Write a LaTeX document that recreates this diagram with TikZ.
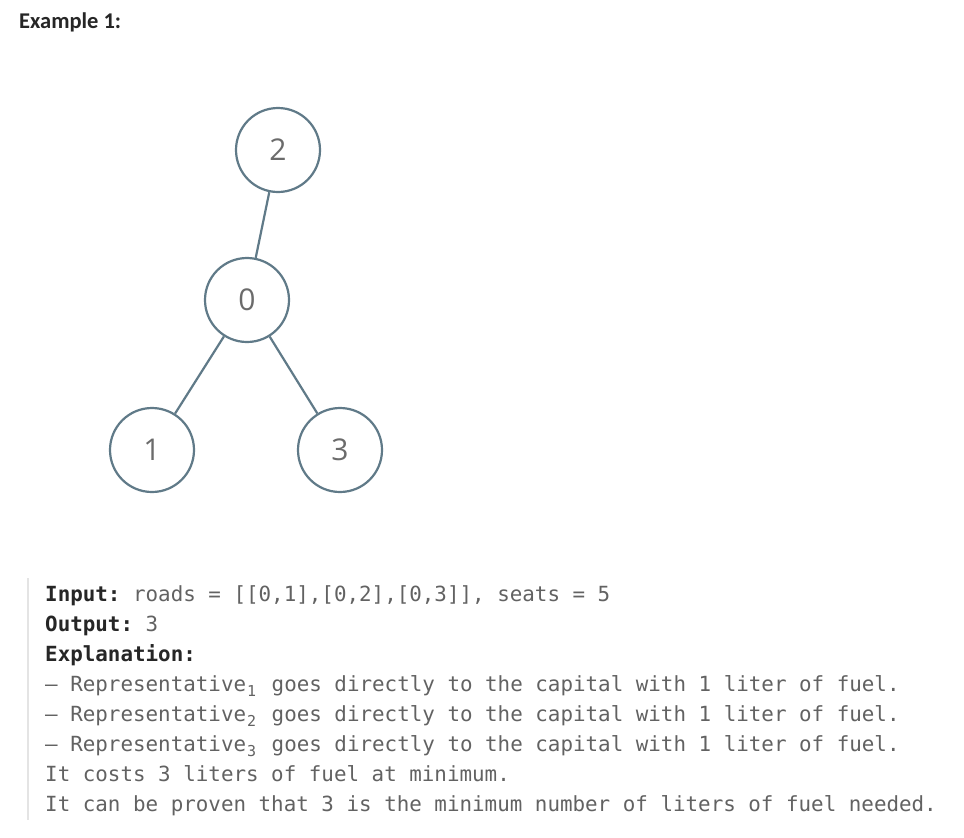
\documentclass[tikz,border=0pt]{standalone}
\usepackage{fontspec}
\setmonofont{DejaVu Sans Mono}
\newfontfamily\headfont{Carlito}
\newfontfamily\numfont{Open Sans}
\definecolor{edgecol}{HTML}{607A88}
\definecolor{numcol}{HTML}{6B6B6B}
\definecolor{txtcol}{HTML}{626262}
\definecolor{boldcol}{HTML}{262626}
\definecolor{barcol}{HTML}{E4E4E4}
\newcommand{\subdig}[1]{\makebox[13pt][l]{\hspace{1pt}\raisebox{-5pt}{\fontsize{15}{15}\selectfont #1}}}
\tikzset{
  vert/.style={circle, draw=edgecol, line width=2.2pt, minimum size=84pt, inner sep=0pt,
    font=\numfont\fontsize{30}{30}\selectfont, text=numcol},
  edge/.style={draw=edgecol, line width=2.2pt},
  codeline/.style={anchor=base west, inner sep=0pt, text=txtcol,
    font=\ttfamily\fontsize{20.86}{24}\selectfont},
}
\begin{document}
\begin{tikzpicture}[x=1pt,y=-1pt]
\useasboundingbox (0,0) rectangle (964,838);
\fill[white] (0,0) rectangle (964,838);
\node[anchor=base west, inner sep=0pt, text=boldcol, font=\headfont\bfseries\fontsize{22.5}{24}\selectfont] (head) at (19,28) {Example 1:};
% graph
\node[vert] (n2) at (278,150) {2};
\node[vert] (n0) at (247,300) {0};
\node[vert] (n1) at (152,450) {1};
\node[vert] (n3) at (340,450) {3};
\draw[edge] (n2) -- (n0);
\draw[edge] (n0) -- (n1);
\draw[edge] (n0) -- (n3);
% quote bar
\coordinate (bartop) at (28,578);
\coordinate (barbot) at (28,820);
\draw[barcol, line width=2pt] (bartop) -- (barbot);
% text
\node[codeline] (l1) at (45,601) {\textcolor{boldcol}{\bfseries Input:} roads = [[0,1],[0,2],[0,3]], seats = 5};
\node[codeline] (l2) at (45,631) {\textcolor{boldcol}{\bfseries Output:} 3};
\node[codeline] (l3) at (45,661) {\textcolor{boldcol}{\bfseries Explanation:}};
\node[codeline] (l4) at (45,691) {– Representative\subdig{1} goes directly to the capital with 1 liter of fuel.};
\node[codeline] (l5) at (45,721) {– Representative\subdig{2} goes directly to the capital with 1 liter of fuel.};
\node[codeline] (l6) at (45,751) {– Representative\subdig{3} goes directly to the capital with 1 liter of fuel.};
\node[codeline] (l7) at (45,781) {It costs 3 liters of fuel at minimum.};
\node[codeline] (l8) at (45,811) {It can be proven that 3 is the minimum number of liters of fuel needed.};
\end{tikzpicture}
\end{document}
